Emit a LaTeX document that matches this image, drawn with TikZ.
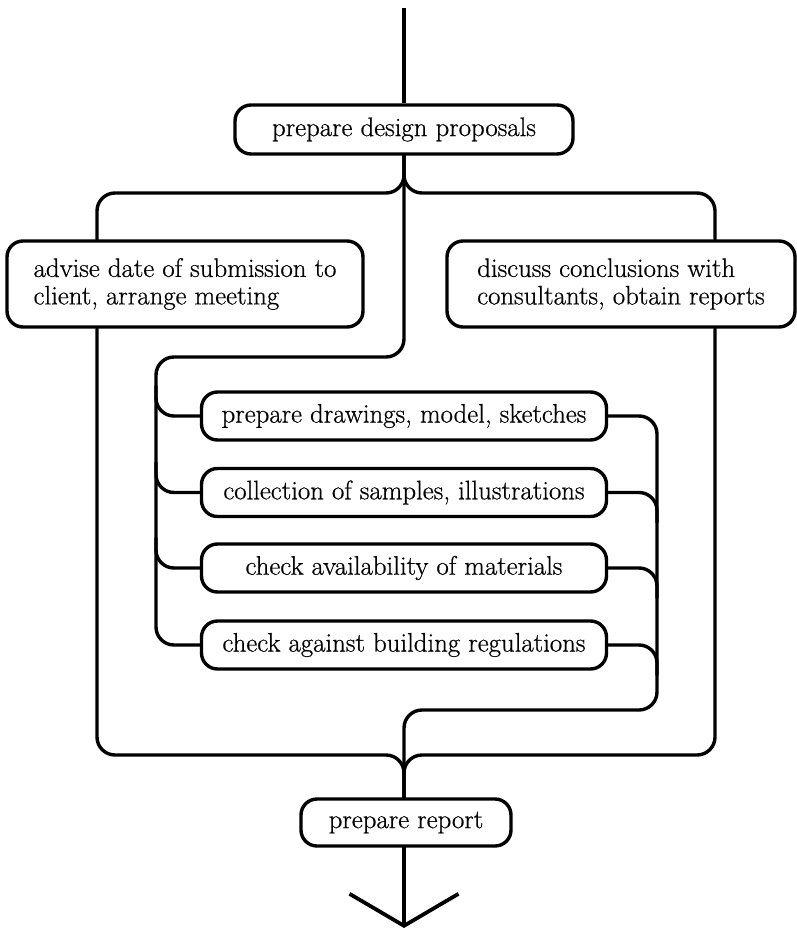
\documentclass[tikz,border=0pt]{standalone}
\usepackage{fontspec}
\usetikzlibrary{arrows.meta}
% text face for the activity boxes: the 17pt cut of Latin Modern, slightly emboldened
\newfontfamily\boxfont{lmroman17-regular}[Extension=.otf, FakeBold=0.6]
\begin{document}
\begin{tikzpicture}[x=1pt, y=-1pt,
  line width=3.4pt, line join=round, line cap=round,
  box/.style={draw, rounded corners=16pt, inner sep=0pt,
    font=\boxfont\fontsize{26.8}{27.5}\selectfont\bfseries},
  task/.style={box, minimum width=405pt, minimum height=48pt},
  link/.style={rounded corners=18pt},
]
\useasboundingbox (0,0) rectangle (797,931);

% activities
\node[box, minimum width=338pt, minimum height=49pt] (p1) at (404,129.5) {prepare design proposals};
\node[box, align=left, minimum width=356pt, minimum height=86pt] (lb) at (185,284)
  {advise date of submission to\\client, arrange meeting};
\node[box, align=left, minimum width=348pt, minimum height=86pt] (rb) at (621,284)
  {discuss conclusions with\\consultants, obtain reports};
\node[task] (b1) at (404,416) {prepare drawings, model, sketches};
\node[task] (b2) at (404,492.5) {collection of samples, illustrations};
\node[task] (b3) at (404,568) {check availability of materials};
\node[task] (b4) at (404,645) {check against building regulations};
\node[box, minimum width=210pt, minimum height=47pt] (rep) at (406,822.5) {prepare report};

% routing points
\coordinate (top) at (404,8);
\coordinate (lx) at (97,193);
\coordinate (rx) at (715,193);
\coordinate (mid) at (156,357);
\coordinate (rbus) at (657,710);
\coordinate (merge) at (404,755);
\coordinate (tip) at (404,928);

% incoming line
\draw[line cap=butt] (top) -- (p1.north);

% split into the three parallel streams
\draw[link] (p1.south) |- (lx) -- (lx |- lb.north);
\draw[link] (p1.south) |- (rx) -- (rx |- rb.north);
\draw[link] (p1.south) |- (mid) |- (b4.west);
\foreach \b in {b1,b2,b3}
  \draw[link] ([yshift=30pt]mid |- \b.west) |- (\b.west);

% collecting bus on the right
\draw[link] (b1.east) -| (rbus) -| (merge |- rep.north);
\foreach \b in {b2,b3,b4}
  \draw[link] (\b.east) -| ([yshift=-30pt]rbus |- \b.east);

% outer streams joining above the report
\draw[link] (lx |- lb.south) |- (merge) -- (merge |- rep.north);
\draw[link] (rx |- rb.south) |- (merge) -- (merge |- rep.north);

% outgoing arrow
\draw[-{Straight Barb[length=32pt, width=109pt, line width=3.8pt]}] (merge |- rep.south) -- (tip);
\end{tikzpicture}
\end{document}
